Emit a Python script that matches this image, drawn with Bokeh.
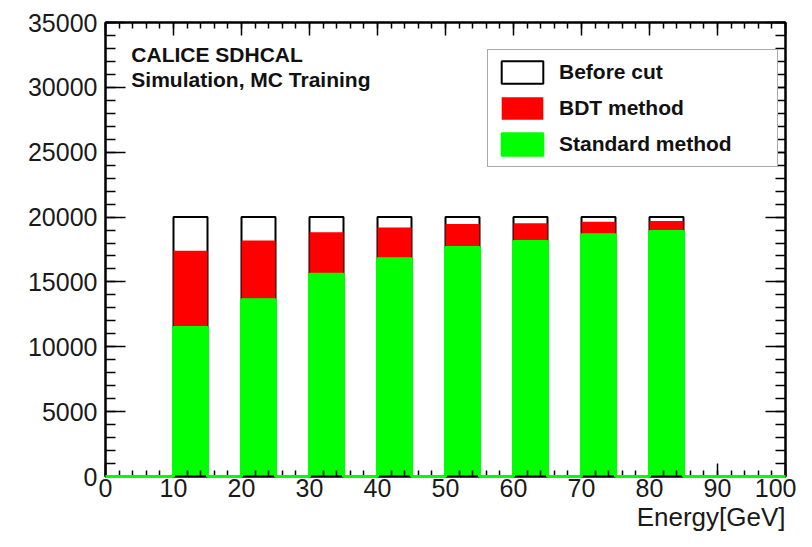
from bokeh.plotting import figure
from bokeh.models import (ColumnDataSource, SingleIntervalTicker, LinearAxis, Legend,
                          LegendItem, Label, Range1d, Title, CustomLabelingPolicy)
from bokeh.embed import file_html
from bokeh.resources import INLINE

# ---- data (histogram bins of 5 GeV) ----
bin_low = [0, 5, 10, 15, 20, 25, 30, 35, 40, 45, 50, 55, 60, 65, 70, 75, 80, 85, 90, 95]
bin_width = 5
before_cut = [0, 0, 20000, 0, 20000, 0, 20000, 0, 20000, 0, 20000, 0, 20000, 0, 20000, 0, 20000, 0, 0, 0]
bdt_method = [0, 0, 17400, 0, 18200, 0, 18830, 0, 19200, 0, 19460, 0, 19530, 0, 19630, 0, 19700, 0, 0, 0]
standard_method = [0, 0, 11490, 0, 13630, 0, 15590, 0, 16790, 0, 17650, 0, 18120, 0, 18630, 0, 18880, 0, 0, 0]

x_label = "Energy[GeV]"
header_lines = ["CALICE SDHCAL", "Simulation, MC Training"]
legend_labels = ["Before cut", "BDT method", "Standard method"]

FONT = "Liberation Sans"

W, H = 796, 531
B_LEFT, B_TOP, B_RIGHT = 105, 22, 11

src = ColumnDataSource(dict(
    left=bin_low,
    right=[b + bin_width for b in bin_low],
    before=before_cut,
    bdt=bdt_method,
    std=standard_method,
    zero=[0] * len(bin_low),
))

p = figure(width=W, height=H, x_range=Range1d(0, 100), y_range=Range1d(0, 35000),
           output_backend="svg", toolbar_location=None,
           x_axis_type=None, y_axis_type=None,
           min_border_left=B_LEFT, min_border_right=B_RIGHT, min_border_top=B_TOP,
           min_border_bottom=0)
p.outline_line_color = "black"
p.outline_line_width = 2
p.background_fill_color = "white"
p.border_fill_color = "white"

r_before = p.quad(left="left", right="right", bottom="zero", top="before", source=src,
                  fill_color="white", line_color="black", line_width=2)
r_bdt = p.quad(left="left", right="right", bottom="zero", top="bdt", source=src,
               fill_color="#ff0000", line_color=None)
r_std = p.quad(left="left", right="right", bottom="zero", top="std", source=src,
               fill_color="#00ff00", line_color="#00ff00", line_width=2)

# green histogram outline (also the zero level line along the whole axis)
step_x = bin_low + [bin_low[-1] + bin_width]
step_y = standard_method + [standard_method[-1]]
r_step = p.step(x=step_x, y=step_y, mode="after", line_color="#00ff00", line_width=3)
r_step.level = "overlay"


def style_axis(ax, major_in, minor_in, labels=True):
    ax.axis_line_color = "black"
    ax.axis_line_width = 2
    ax.major_tick_in = major_in
    ax.major_tick_out = 0
    ax.minor_tick_in = minor_in
    ax.minor_tick_out = 0
    ax.major_tick_line_color = "black"
    ax.minor_tick_line_color = "black"
    ax.major_tick_line_width = 1.5
    ax.minor_tick_line_width = 1.5
    if labels:
        ax.major_label_text_font = FONT
        ax.major_label_text_font_size = "25px"
        ax.major_label_text_color = "#1a1a1a"
    else:
        ax.major_label_text_font_size = "0px"
        ax.major_label_standoff = 0
        ax.major_label_policy = CustomLabelingPolicy(code="return []")


xt = SingleIntervalTicker(interval=10, num_minor_ticks=5)
yt = SingleIntervalTicker(interval=5000, num_minor_ticks=5)

ax_b = LinearAxis(ticker=xt)
style_axis(ax_b, 13, 6)
ax_b.major_label_standoff = 2
p.add_layout(ax_b, "below")

ax_l = LinearAxis(ticker=yt)
style_axis(ax_l, 20, 10)
ax_l.major_label_standoff = 8
p.add_layout(ax_l, "left")

ax_t = LinearAxis(ticker=SingleIntervalTicker(interval=10, num_minor_ticks=5))
style_axis(ax_t, 13, 6, labels=False)
p.add_layout(ax_t, "above")

ax_r = LinearAxis(ticker=SingleIntervalTicker(interval=5000, num_minor_ticks=5))
style_axis(ax_r, 20, 10, labels=False)
p.add_layout(ax_r, "right")

xtitle = Title(text=x_label, align="right", text_font=FONT, text_font_size="26px",
               text_font_style="normal", text_color="#1a1a1a", standoff=0, offset=0)
p.add_layout(xtitle, "below")

p.add_layout(Label(x=3.8, y=32500, text=header_lines[0], text_align="left",
                   text_baseline="alphabetic", text_font=FONT, text_font_size="21px",
                   text_font_style="bold", text_color="#111111"))
p.add_layout(Label(x=3.8, y=30600, text=header_lines[1], text_align="left",
                   text_baseline="alphabetic", text_font=FONT, text_font_size="21px",
                   text_font_style="bold", text_color="#111111"))

legend = Legend(items=[LegendItem(label=legend_labels[0], renderers=[r_before]),
                       LegendItem(label=legend_labels[1], renderers=[r_bdt]),
                       LegendItem(label=legend_labels[2], renderers=[r_std])],
                location=(382, 309))
legend.glyph_width = 52
legend.glyph_height = 28
legend.label_width = 210
legend.label_standoff = 11
legend.padding = 8
legend.spacing = 8
legend.margin = 0
legend.label_text_font = FONT
legend.label_text_font_size = "21px"
legend.label_text_font_style = "bold"
legend.label_text_color = "#111111"
legend.border_line_color = "#555555"
legend.border_line_width = 1.5
legend.background_fill_color = "white"
legend.background_fill_alpha = 1.0
p.add_layout(legend, "center")

open("out.html", "w").write(file_html(p, INLINE))
